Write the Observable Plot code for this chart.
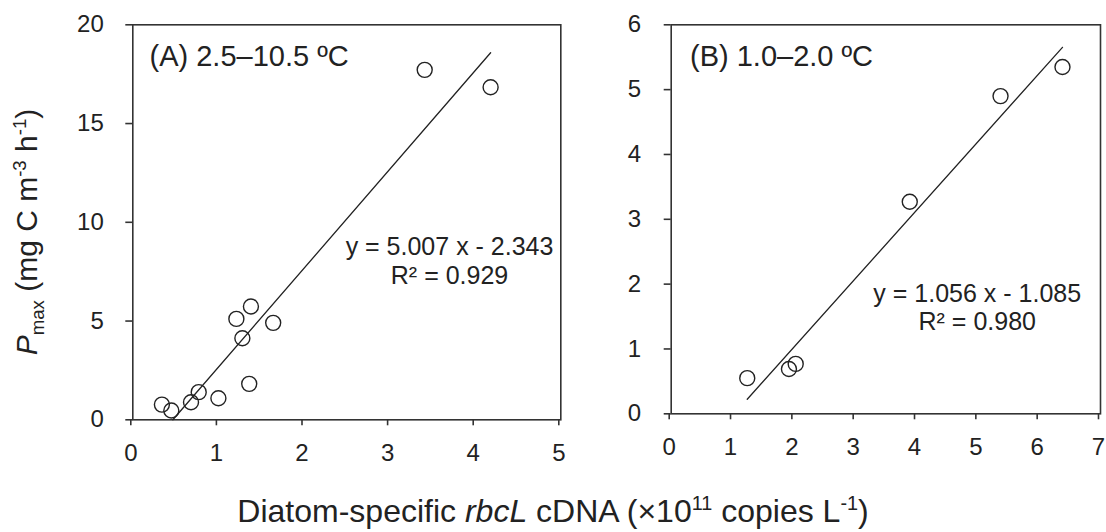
<!DOCTYPE html>
<html>
<head>
<meta charset="utf-8">
<script src="https://cdn.jsdelivr.net/npm/d3@7"></script>
<script src="https://cdn.jsdelivr.net/npm/@observablehq/plot@0.6"></script>
<style>
  body { margin: 0; background: #fff; }
  #wrap { position: relative; width: 1106px; height: 532px; font-family: "Liberation Sans", Arial, sans-serif; color: #222; overflow: hidden; }
  #wrap svg { position: absolute; top: 0; }
  .ylab { position: absolute; left: 26.5px; top: 232px; transform: translate(-50%, -50%) rotate(-90deg); white-space: nowrap; font-size: 30px; line-height: 1; }
  .xlab { position: absolute; left: 553px; top: 511px; transform: translate(-50%, -50%); white-space: nowrap; font-size: 32px; line-height: 1; }
  .ylab sub, .xlab sub, .ylab sup, .xlab sup { font-size: 0.62em; line-height: 0; }
</style>
</head>
<body>
<div id="wrap">
  <div class="ylab"><i>P</i><sub>max</sub> (mg C m<sup>-3</sup> h<sup>-1</sup>)</div>
  <div class="xlab">Diatom-specific <i>rbcL</i> cDNA (×10<sup>11</sup> copies L<sup>-1</sup>)</div>
</div>
<script>
// ---- Data ----
const xA = [0.34, 0.45, 0.68, 0.77, 1.00, 1.21, 1.28, 1.38, 1.36, 1.64, 3.41, 4.18];
const yA = [0.77, 0.47, 0.89, 1.40, 1.09, 5.11, 4.13, 5.74, 1.82, 4.91, 17.72, 16.84];
const xB = [1.24, 1.92, 2.03, 3.89, 5.37, 6.38];
const yB = [0.55, 0.69, 0.77, 3.27, 4.90, 5.35];

const xTicksA = [0, 1, 2, 3, 4, 5];
const yTicksA = [0, 5, 10, 15, 20];
const xTicksB = [0, 1, 2, 3, 4, 5, 6, 7];
const yTicksB = [0, 1, 2, 3, 4, 5, 6];

// regression lines as printed on the chart: slope, intercept and x extent
const fitA = [5.007, -2.343, 0.468, 4.18];
const fitB = [1.056, -1.085, 1.24, 6.38];

const labelA = "(A) 2.5–10.5 ºC";
const labelB = "(B) 1.0–2.0 ºC";
const eqA = "y = 5.007 x - 2.343\nR² = 0.929";
const eqB = "y = 1.056 x - 1.085\nR² = 0.980";
// equation anchor (data coordinates, last line baseline)
const eqPosA = [3.70, 6.90];
const eqPosB = [4.99, 1.285];

// ---- Drawing ----
const INK = "#222";
const FONT = "'Liberation Sans', Arial, sans-serif";

function panel(o) {
  const pts = o.xs.map((x, i) => ({x, y: o.ys[i]}));
  const [m, b, x0, x1] = o.fit;
  const fitPts = [x0, x1].map(x => ({x, y: m * x + b}));
  return Plot.plot({
    width: o.width, height: o.height,
    marginLeft: o.ml, marginRight: o.mr, marginTop: o.mt, marginBottom: o.mb,
    x: {domain: o.xDomain},
    y: {domain: o.yDomain},
    style: {fontFamily: FONT, fontSize: "24px", color: INK, background: "transparent", overflow: "visible"},
    marks: [
      Plot.frame({stroke: "#333", strokeWidth: 1.6}),
      Plot.axisX(o.xTicks, {tickSize: 6, tickPadding: 18, fontSize: 24, label: null, stroke: "#333", strokeWidth: 1.6, dx: -2, tickFormat: d3.format("d")}),
      Plot.axisY(o.yTicks, {tickSize: 7, tickPadding: o.yPad, fontSize: 24, label: null, stroke: "#333", strokeWidth: 1.6, tickFormat: d3.format("d")}),
      Plot.line(fitPts, {x: "x", y: "y", stroke: INK, strokeWidth: 1.3}),
      Plot.dot(pts, {x: "x", y: "y", r: 7.5, stroke: INK, strokeWidth: 1.4, fill: "none"}),
      Plot.text([o.label], {frameAnchor: "top-left", dx: o.labDx, dy: 40.7, lineAnchor: "bottom", textAnchor: "start", fontSize: 29, fill: INK}),
      Plot.text([o.eq], {x: () => o.eqPos[0], y: () => o.eqPos[1], textAnchor: "middle", lineAnchor: "bottom", lineHeight: 1.13, fontSize: 25, fill: INK})
    ]
  });
}

const wrap = document.getElementById("wrap");

const a = panel({
  xs: xA, ys: yA, xDomain: [0, 5], yDomain: [0, 20], xTicks: xTicksA, yTicks: yTicksA,
  fit: fitA, label: labelA, eq: eqA, eqPos: eqPosA,
  width: 569, height: 480, ml: 132.3, mr: 8.7, mt: 24.3, mb: 60.7, yPad: 22, labDx: 16.7
});
a.style.left = "0px";
wrap.appendChild(a);

const bp = panel({
  xs: xB, ys: yB, xDomain: [0, 7], yDomain: [0, 6], xTicks: xTicksB, yTicks: yTicksB,
  fit: fitB, label: labelB, eq: eqB, eqPos: eqPosB,
  width: 537, height: 480, ml: 101.7, mr: 6, mt: 24.3, mb: 66.7, yPad: 23, labDx: 18.8
});
bp.style.left = "569px";
wrap.appendChild(bp);
</script>
</body>
</html>
